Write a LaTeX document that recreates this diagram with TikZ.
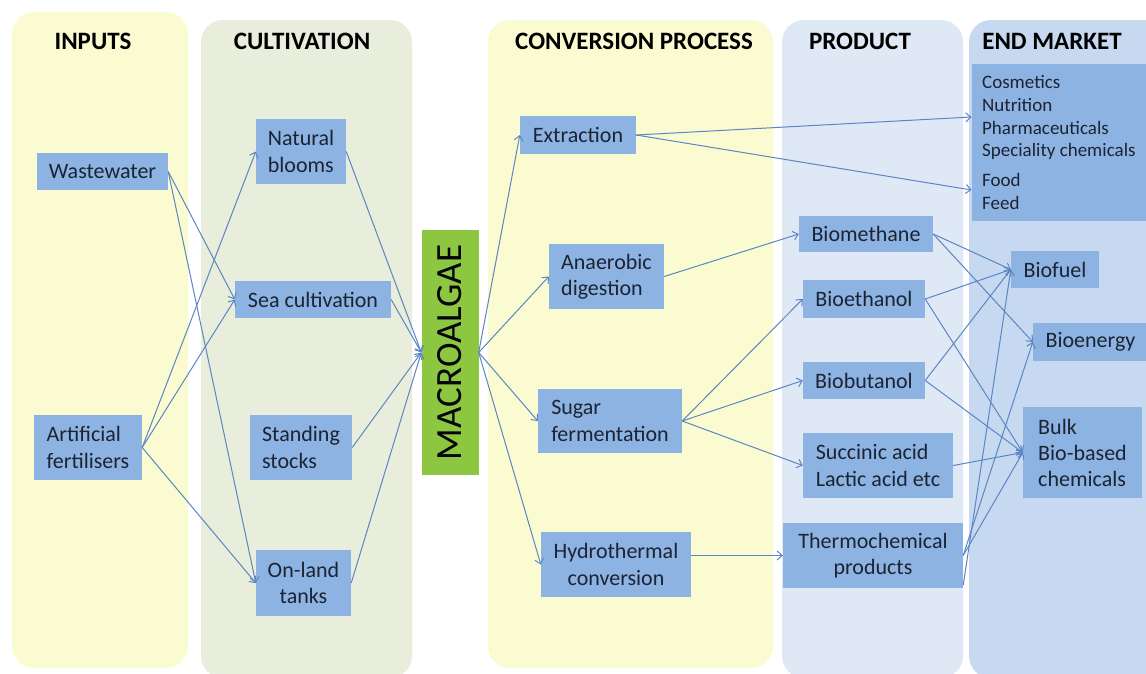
\documentclass[tikz,border=0pt]{standalone}
\usepackage{fontspec}
\setmainfont{Carlito}
\usetikzlibrary{arrows.meta}
\definecolor{yellowband}{HTML}{FBFBD2}
\definecolor{greenband}{HTML}{E9EDDC}
\definecolor{productband}{HTML}{DFE8F5}
\definecolor{marketband}{HTML}{C6D9F1}
\definecolor{nodeblue}{HTML}{8DB3E2}
\definecolor{algaegreen}{HTML}{8DC641}
\definecolor{navy}{HTML}{1C2333}
\definecolor{linecol}{HTML}{5B86C3}
\begin{document}
\begin{tikzpicture}[x=1pt,y=-1pt,
  band/.style={rounded corners=22pt},
  header/.style={font=\fontsize{25}{29}\selectfont\bfseries, text=black, inner sep=0pt},
  box/.style={fill=nodeblue, text=navy, font=\fontsize{22}{26.5}\selectfont, inner sep=0pt},
  listtext/.style={font=\fontsize{19}{22.7}\selectfont},
  flow/.style={draw=linecol, line width=1pt, -{Straight Barb[length=5pt,width=9pt]}}
]
\useasboundingbox (0,0) rectangle (1146,673);
\clip (0,0) rectangle (1146,673);
\fill[white] (0,0) rectangle (1146,673);
% bands
\fill[yellowband, band] (12,12) rectangle (188,668);
\fill[greenband, band] (201,20) rectangle (412,678);
\fill[yellowband, band] (488,20) rectangle (773,668);
\fill[productband, band] (782,20) rectangle (963,678);
\fill[marketband, band] (969,20) rectangle (1180,678);
% headers
\node[header] (hin) at (93,41.5) {INPUTS};
\node[header] (hcult) at (302,41.5) {CULTIVATION};
\node[header] (hconv) at (634,41.5) {CONVERSION PROCESS};
\node[header] (hprod) at (860,41.5) {PRODUCT};
\node[header] (hmark) at (1052,41.5) {END MARKET};
% inputs
\node[box, minimum width=131pt, minimum height=37pt] (wastewater) at (102.5,171.5) {Wastewater};
\node[box, minimum width=108pt, minimum height=65pt, align=left] (artificial) at (88,447.5) {Artificial\\fertilisers};
% cultivation
\node[box, minimum width=90pt, minimum height=65pt, align=left] (natural) at (301,151.5) {Natural\\blooms};
\node[box, minimum width=156pt, minimum height=37pt] (sea) at (313,299.5) {Sea cultivation};
\node[box, minimum width=102pt, minimum height=65pt, align=left] (standing) at (301,447.5) {Standing\\stocks};
\node[box, minimum width=95pt, minimum height=66pt, align=center] (onland) at (303.5,583) {On-land\\tanks};
% macroalgae
\node[fill=algaegreen, text=black!85!navy, minimum width=57pt, minimum height=245pt, inner sep=0pt, font=\fontsize{37}{40}\selectfont] (macro) at (450,352.5) {\rotatebox{90}{MACROALGAE}};
% conversion
\node[box, minimum width=116pt, minimum height=38pt] (extraction) at (578,135) {Extraction};
\node[box, minimum width=115pt, minimum height=65pt, align=left] (anaerobic) at (606.5,276.5) {Anaerobic\\digestion};
\node[box, minimum width=144pt, minimum height=64pt, align=left] (sugar) at (610,421) {Sugar\\fermentation};
\node[box, minimum width=150pt, minimum height=65pt, align=center] (hydro) at (616,564.5) {Hydrothermal\\conversion};
% products
\node[box, minimum width=134pt, minimum height=36pt] (biomethane) at (866,234) {Biomethane};
\node[box, minimum width=122pt, minimum height=38pt] (bioethanol) at (864,299) {Bioethanol};
\node[box, minimum width=122pt, minimum height=37pt] (biobutanol) at (864,380.5) {Biobutanol};
\node[box, minimum width=150pt, minimum height=65pt, align=left] (succinic) at (878,465.5) {Succinic acid\\Lactic acid etc};
\node[box, minimum width=180pt, minimum height=65pt, align=center] (thermo) at (873,555.5) {Thermochemical\\products};
% end market
\node[box, listtext, minimum width=174.3pt, minimum height=157pt, align=left] (market) at (1058.85,142.5) {Cosmetics\\Nutrition\\Pharmaceuticals\\Speciality chemicals\\[7pt]Food\\Feed};
\node[box, minimum width=88pt, minimum height=37pt] (biofuel) at (1055,269.5) {Biofuel};
\node[box, minimum width=115pt, minimum height=38pt] (bioenergy) at (1090.5,342) {Bioenergy};
\node[box, font=\fontsize{22}{26}\selectfont, minimum width=119pt, minimum height=91pt, align=left] (bulk) at (1082.5,452.5) {Bulk\\Bio-based\\chemicals};
% connectors: inputs -> cultivation
\draw[flow] (wastewater.east) -- (sea.west);
\draw[flow] (wastewater.east) -- (onland.west);
\draw[flow] (artificial.east) -- (natural.west);
\draw[flow] (artificial.east) -- (sea.west);
\draw[flow] (artificial.east) -- (onland.west);
% cultivation -> macroalgae
\draw[flow] (natural.east) -- (macro.west);
\draw[flow] (sea.east) -- (macro.west);
\draw[flow] (standing.east) -- (macro.west);
\draw[flow] (onland.east) -- (macro.west);
% macroalgae -> conversion
\draw[flow] (macro.east) -- (extraction.west);
\draw[flow] (macro.east) -- (anaerobic.west);
\draw[flow] (macro.east) -- (sugar.west);
\draw[flow] (macro.east) -- (hydro.west);
% conversion -> products / market
\draw[flow] (extraction.east) -- ([yshift=25.5pt]market.west);
\draw[flow] (extraction.east) -- ([yshift=-47.5pt]market.west);
\draw[flow] (anaerobic.east) -- (biomethane.west);
\draw[flow] (sugar.east) -- (bioethanol.west);
\draw[flow] (sugar.east) -- (biobutanol.west);
\draw[flow] (sugar.east) -- (succinic.west);
\draw[flow] (hydro.east |- thermo.west) -- (thermo.west);
% products -> end market
\draw[flow] (biomethane.east) -- (biofuel.west);
\draw[flow] (biomethane.east) -- (bioenergy.west);
\draw[flow] (bioethanol.east) -- (biofuel.west);
\draw[flow] (bioethanol.east) -- (bulk.west);
\draw[flow] (biobutanol.east) -- (biofuel.west);
\draw[flow] (biobutanol.east) -- (bulk.west);
\draw[flow] (succinic.east) -- (bulk.west);
\draw[flow] (thermo.east) -- (bioenergy.west);
\draw[flow] (thermo.east) -- (bulk.west);
\draw[flow] ([yshift=3pt]thermo.south east) -- (biofuel.west);
\end{tikzpicture}
\end{document}
